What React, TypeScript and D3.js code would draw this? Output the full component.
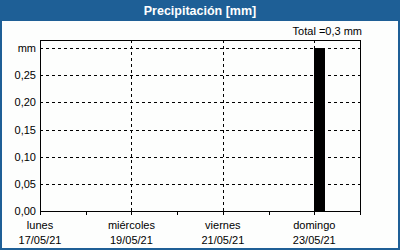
import React from "react";
import * as d3 from "d3";

const title = "Precipitación [mm]";
const totalLabel = "Total =0,3 mm";
const unitLabel = "mm";
const dayNames = ["lunes", "martes", "miércoles", "jueves", "viernes", "sábado", "domingo"];
const dayDates = ["17/05/21", "18/05/21", "19/05/21", "20/05/21", "21/05/21", "22/05/21", "23/05/21"];
const barStarts = ["2021-05-23T00:00"];
const barEnds = ["2021-05-23T06:00"];
const barValues = [0.3];
const yTicks = [0, 0.05, 0.1, 0.15, 0.2, 0.25, 0.3];

const W = 400;
const H = 250;
const margin = { left: 40, right: 40, top: 40, bottom: 39 };
const blue = "#1e5f96";
const font = "'Liberation Sans', Arial, sans-serif";

export default function App() {
  const x = d3
    .scaleTime()
    .domain([new Date("2021-05-17T00:00"), new Date("2021-05-24T00:00")])
    .range([margin.left, W - margin.right]);
  const y = d3
    .scaleLinear()
    .domain([0, 0.315])
    .range([H - margin.bottom, margin.top]);
  const days = d3.timeDay.range(new Date("2021-05-17T00:00"), new Date("2021-05-24T00:00"));
  const fmt = (v: number) => d3.format(".2f")(v).replace(".", ",");
  const x0 = margin.left;
  const x1 = W - margin.right;
  const yb = H - margin.bottom;
  const yt = margin.top;

  return (
    <div style={{ position: "fixed", left: 0, top: 0 }}>
      <svg width={W} height={H} style={{ display: "block" }}>
        <rect x={0} y={0} width={W} height={H} fill={blue} />
        <rect x={2} y={21} width={W - 4} height={H - 23} fill="#fdfefd" />
        <text x={W / 2} y={15} textAnchor="middle" fill="#fff" fontFamily={font} fontWeight="bold" fontSize={12.5}>
          {title}
        </text>
        <text x={x1 + 2} y={35} textAnchor="end" fill="#000" fontFamily={font} fontSize={11}>
          {totalLabel}
        </text>
        {/* horizontal grid */}
        {yTicks.filter((t) => t > 0).map((t, i) => (
          <line key={"hg" + i} x1={x0} x2={x1} y1={Math.round(y(t)) + 0.5} y2={Math.round(y(t)) + 0.5} stroke="#000" strokeDasharray="3,3" />
        ))}
        {/* vertical grid */}
        {days.map((d, i) =>
          i % 2 === 0 && i > 0 ? (
            <line key={"vg" + i} x1={Math.round(x(d)) + 0.5} x2={Math.round(x(d)) + 0.5} y1={yt} y2={yb} stroke="#000" strokeDasharray="3,3" />
          ) : null
        )}
        {/* bars */}
        {barValues.map((v, i) => (
          <rect
            key={"b" + i}
            x={Math.round(x(new Date(barStarts[i])))}
            y={Math.round(y(v))}
            width={Math.round(x(new Date(barEnds[i])) - x(new Date(barStarts[i])))}
            height={yb - Math.round(y(v))}
            fill="#000"
          />
        ))}
        {/* frame */}
        <rect x={x0 + 0.5} y={yt + 0.5} width={x1 - x0} height={yb - yt} fill="none" stroke="#000" />
        {/* x ticks */}
        {days.concat([new Date("2021-05-24T00:00")]).map((d, i) => (
          <line key={"xt" + i} x1={Math.round(x(d)) + 0.5} x2={Math.round(x(d)) + 0.5} y1={yb} y2={yb + 4} stroke="#000" />
        ))}
        {/* x labels */}
        {days.map((d, i) =>
          i % 2 === 0 ? (
            <g key={"xl" + i}>
              <text x={x(d)} y={229} textAnchor="middle" fontFamily={font} fontSize={11} fill="#000">
                {dayNames[i]}
              </text>
              <text x={x(d)} y={244} textAnchor="middle" fontFamily={font} fontSize={11} fill="#000">
                {dayDates[i]}
              </text>
            </g>
          ) : null
        )}
        {/* y labels */}
        {yTicks.map((t, i) => (
          <text key={"yl" + i} x={36} y={y(t) + 4} textAnchor="end" fontFamily={font} fontSize={11} fill="#000">
            {t === 0.3 ? unitLabel : fmt(t)}
          </text>
        ))}
      </svg>
    </div>
  );
}
